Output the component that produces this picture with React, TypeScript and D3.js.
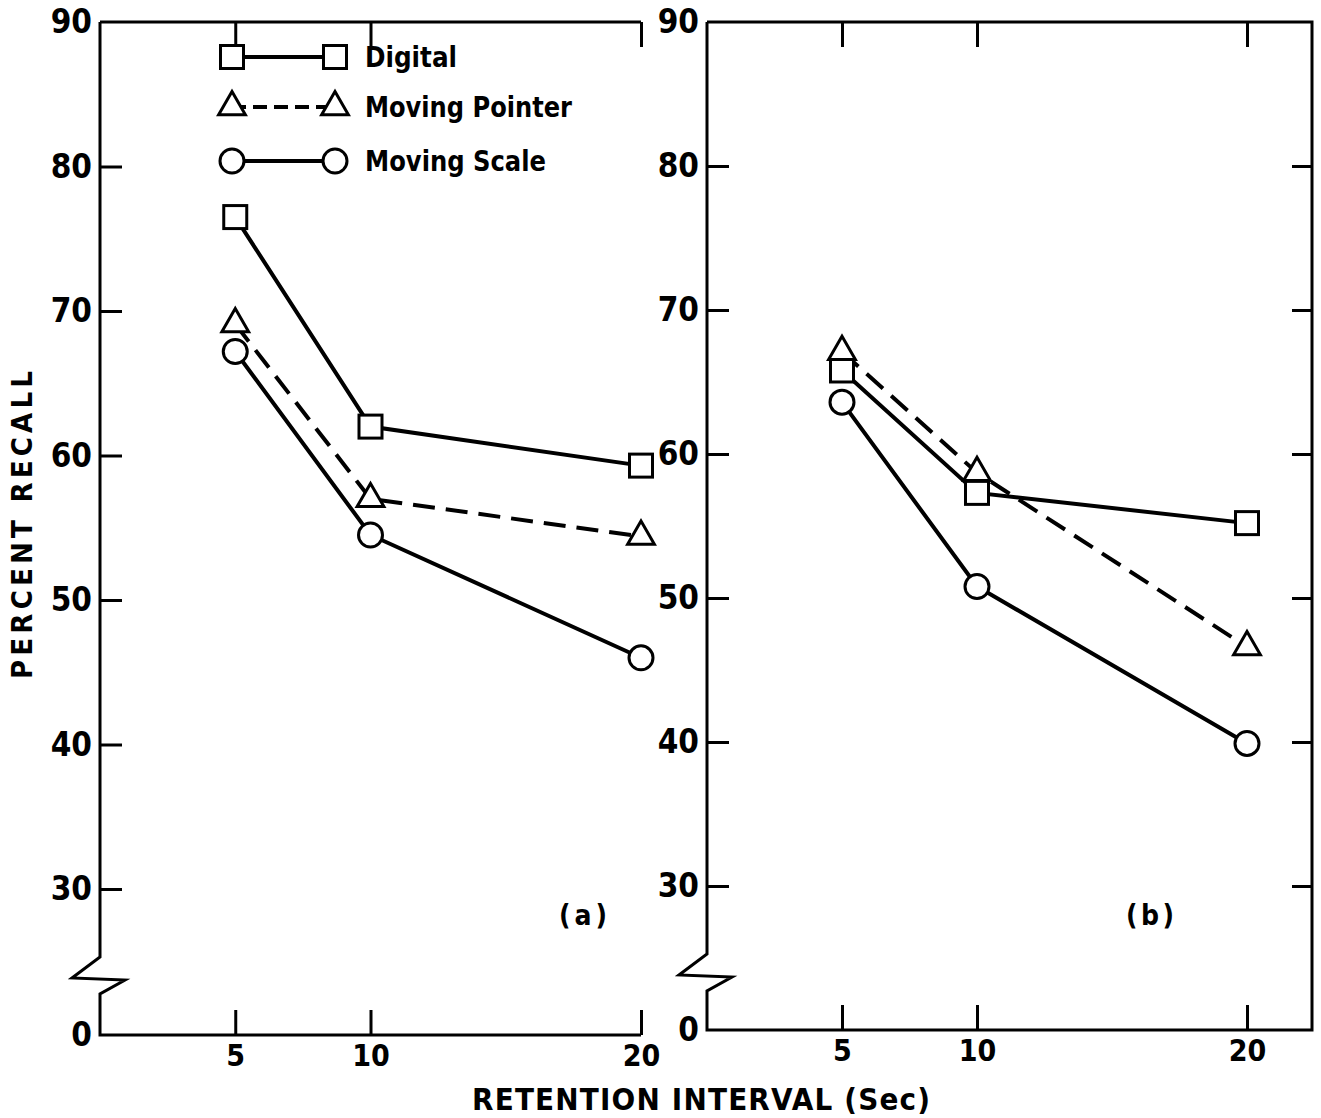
import React, { useEffect, useRef } from "react";
import * as d3 from "d3";

// retention intervals (sec) and series values
const intervals = [5, 10, 20];
const seriesNames = ["Digital", "Moving Pointer", "Moving Scale"];
const digitalA = [76.5, 62.0, 59.3];
const pointerA = [69.1, 57.0, 54.4];
const scaleA = [67.2, 54.5, 46.0];
const digitalB = [65.8, 57.3, 55.2];
const pointerB = [67.1, 58.7, 46.6];
const scaleB = [63.6, 50.8, 39.9];
const yTicks = [0, 30, 40, 50, 60, 70, 80, 90];
const xTicks = [5, 10, 20];
const panelLabels = ["(a)", "(b)"];

const FONT = "'DejaVu Sans Condensed', 'DejaVu Sans', sans-serif";
const W = 1321;
const H = 1118;

const App = () => {
  const svgRef = useRef<SVGSVGElement>(null);

  useEffect(() => {
    const svg = d3.select(svgRef.current);
    svg.selectAll("*").remove();

    const panels = [
      { label: panelLabels[0], series: [digitalA, pointerA, scaleA], x0: 100, x20: 641, yBottom: 1035, y30: 889, yTop: 22, right: null as number | null, legend: true, labelX: 583 },
      { label: panelLabels[1], series: [digitalB, pointerB, scaleB], x0: 707, x20: 1247, yBottom: 1030, y30: 886, yTop: 22, right: 1312 as number | null, legend: false, labelX: 1150 },
    ];

    const drawMarker = (g, kind, cx, cy) => {
      if (kind === 0) {
        g.append("rect")
          .attr("x", cx - 11.5).attr("y", cy - 11.5)
          .attr("width", 23).attr("height", 23)
          .attr("fill", "white").attr("stroke", "black").attr("stroke-width", 3);
      } else if (kind === 1) {
        g.append("path")
          .attr("d", d3.symbol(d3.symbolTriangle, 310)())
          .attr("transform", `translate(${cx},${cy})`)
          .attr("fill", "white").attr("stroke", "black").attr("stroke-width", 3);
      } else {
        g.append("circle")
          .attr("cx", cx).attr("cy", cy).attr("r", 12)
          .attr("fill", "white").attr("stroke", "black").attr("stroke-width", 3);
      }
    };

    panels.forEach((p) => {
      const x = d3.scaleLinear().domain([0, 20]).range([p.x0, p.x20]);
      const y = d3.scaleLinear().domain([0, 30, 90]).range([p.yBottom, p.y30, p.yTop]);
      const g = svg.append("g");

      // frame with the axis break
      const xEnd = p.right ?? x(20);
      const frame = d3.path();
      frame.moveTo(p.x0, p.yTop);
      frame.lineTo(p.x0, p.y30 + 68);
      frame.lineTo(p.x0 - 28, p.y30 + 89);
      frame.lineTo(p.x0 + 25, p.y30 + 91);
      frame.lineTo(p.x0, p.y30 + 105);
      frame.lineTo(p.x0, p.yBottom);
      frame.lineTo(xEnd, p.yBottom);
      if (p.right != null) {
        frame.lineTo(p.right, p.yTop);
        frame.lineTo(p.x0, p.yTop);
      } else {
        frame.moveTo(p.x0, p.yTop);
        frame.lineTo(x(20), p.yTop);
      }
      g.append("path")
        .attr("d", frame.toString())
        .attr("fill", "none")
        .attr("stroke", "black")
        .attr("stroke-width", 3)
        .attr("stroke-linejoin", "miter");

      // left axis
      const yAxis = g.append("g")
        .attr("transform", `translate(${p.x0},0)`)
        .call(d3.axisLeft(y).tickValues(yTicks).tickSizeInner(-22).tickSizeOuter(0).tickPadding(8));
      yAxis.select(".domain").remove();
      yAxis.selectAll(".tick line").attr("stroke", "black").attr("stroke-width", 3)
        .filter((d) => d === 0 || d === 90).remove();
      yAxis.selectAll("text").style("font-size", "33px").style("font-family", FONT).style("font-weight", "bold").attr("fill", "black");

      // right axis (panel b only)
      if (p.right != null) {
        const rAxis = g.append("g")
          .attr("transform", `translate(${p.right},0)`)
          .call(d3.axisRight(y).tickValues(yTicks.filter((t) => t > 0 && t < 90)).tickSizeInner(-20).tickSizeOuter(0).tickFormat(() => ""));
        rAxis.select(".domain").remove();
        rAxis.selectAll(".tick line").attr("stroke", "black").attr("stroke-width", 3);
      }

      // bottom axis
      const xAxis = g.append("g")
        .attr("transform", `translate(0,${p.yBottom})`)
        .call(d3.axisBottom(x).tickValues(xTicks).tickSizeInner(-25).tickSizeOuter(0).tickPadding(10));
      xAxis.select(".domain").remove();
      xAxis.selectAll(".tick line").attr("stroke", "black").attr("stroke-width", 3);
      xAxis.selectAll("text").style("font-size", "30px").style("font-family", FONT).style("font-weight", "bold").attr("fill", "black");

      // top axis
      const tAxis = g.append("g")
        .attr("transform", `translate(0,${p.yTop})`)
        .call(d3.axisTop(x).tickValues(xTicks).tickSizeInner(-25).tickSizeOuter(0).tickFormat(() => ""));
      tAxis.select(".domain").remove();
      tAxis.selectAll(".tick line").attr("stroke", "black").attr("stroke-width", 3);

      // series lines
      const line = d3.line<number>()
        .x((d, i) => x(intervals[i]))
        .y((d) => y(d));
      p.series.forEach((vals, k) => {
        g.append("path")
          .datum(vals)
          .attr("fill", "none")
          .attr("stroke", "black")
          .attr("stroke-width", 4)
          .attr("stroke-dasharray", k === 1 ? "22,11" : null)
          .attr("d", line);
      });
      p.series.forEach((vals, k) => {
        vals.forEach((v, i) => drawMarker(g, k, x(intervals[i]), y(v)));
      });

      // panel label
      g.append("text")
        .attr("x", p.labelX)
        .attr("y", 915)
        .attr("dy", "0.35em")
        .attr("text-anchor", "middle")
        .attr("textLength", 48)
        .attr("lengthAdjust", "spacing")
        .style("font-size", "28px")
        .style("font-family", FONT)
        .style("font-weight", "bold")
        .text(p.label);

      // legend
      if (p.legend) {
        const rows = [57, 107, 161];
        seriesNames.forEach((name, k) => {
          const ly = rows[k];
          g.append("line")
            .attr("x1", 232).attr("x2", 335)
            .attr("y1", ly).attr("y2", ly)
            .attr("stroke", "black").attr("stroke-width", 4)
            .attr("stroke-dasharray", k === 1 ? "14,7" : null);
          drawMarker(g, k, 232, ly);
          drawMarker(g, k, 335, ly);
          g.append("text")
            .attr("x", 365).attr("y", ly)
            .attr("dy", "0.35em")
            .attr("textLength", [92, 207, 181][k])
            .attr("lengthAdjust", "spacingAndGlyphs")
            .style("font-size", "29px")
            .style("font-family", FONT)
            .style("font-weight", "bold")
            .text(name);
        });
      }
    });

    // axis titles
    svg.append("text")
      .attr("transform", "translate(32,525) rotate(-90)")
      .attr("text-anchor", "middle")
      .attr("textLength", 308)
      .attr("lengthAdjust", "spacing")
      .style("font-size", "29px")
      .style("font-family", FONT)
      .style("font-weight", "bold")
      .text("PERCENT RECALL");

    svg.append("text")
      .attr("x", 472)
      .attr("y", 1110)
      .attr("textLength", 458)
      .attr("lengthAdjust", "spacing")
      .style("font-size", "31px")
      .style("font-family", FONT)
      .style("font-weight", "bold")
      .text("RETENTION INTERVAL (Sec)");
  }, []);

  return (
    <>
      <style>{`body{margin:0;background:#fff}`}</style>
      <svg ref={svgRef} width={W} height={H} style={{ display: "block", background: "white" }}></svg>
    </>
  );
};

export default App;
